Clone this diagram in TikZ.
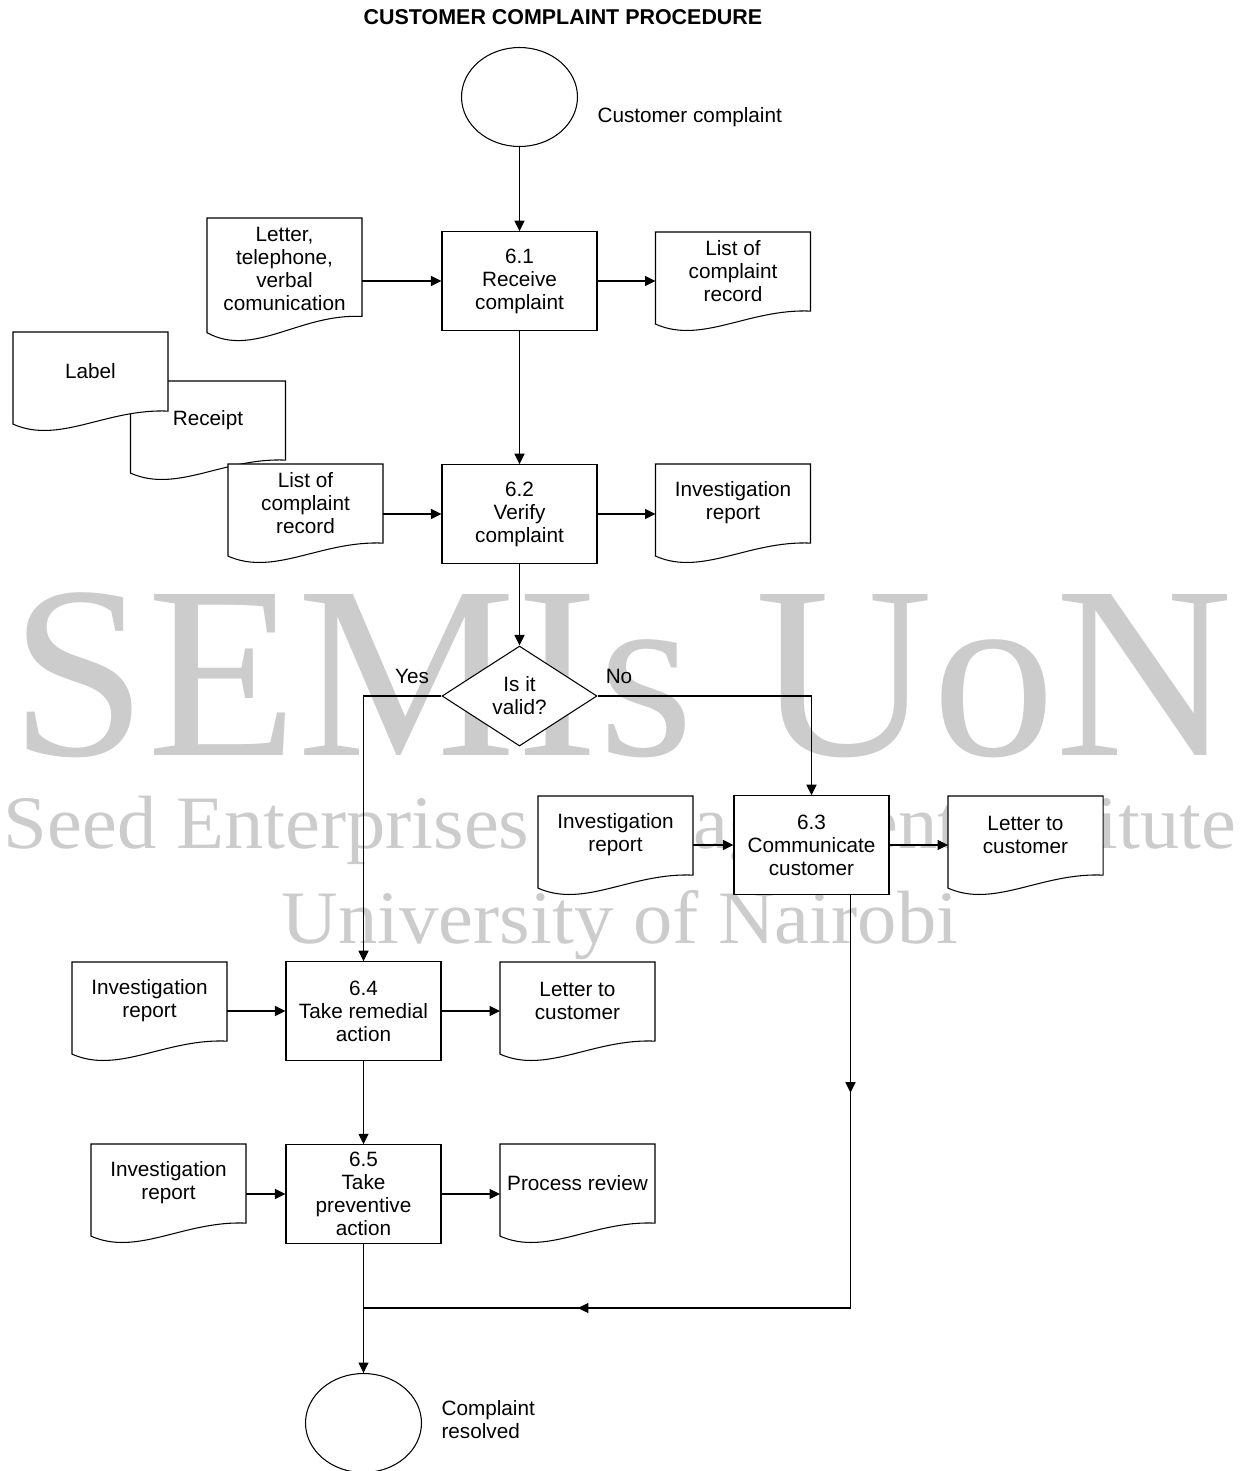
\documentclass[tikz,border=0pt]{standalone}
\usepackage{fontspec}
\setmainfont{Liberation Sans}
\newfontfamily\markfont{Liberation Serif}
\usetikzlibrary{arrows.meta,shapes.geometric,calc,decorations.markings}

\tikzset{
    >={Triangle[length=0.21cm, width=0.2cm]},
    txt/.style={font=\fontsize{11.8}{13.1}\selectfont},
    proc/.style={txt, draw, fill=white, minimum width=3.1cm, minimum height=1.97cm,
        align=center, inner sep=0pt},
    term/.style={draw, fill=white, ellipse, minimum width=2.32cm, minimum height=1.98cm,
        inner sep=0pt},
    choice/.style={txt, draw, fill=white, diamond, minimum width=3.1cm, minimum height=2cm,
        inner sep=0pt, align=center},
    docframe/.style={minimum width=3.1cm, inner sep=0pt, outer sep=0pt},
    doctext/.style={txt, align=center, yshift=0.2cm},
    note/.style={txt, align=left, anchor=west, inner sep=0pt},
    wmark/.style={text=black!20, inner sep=0pt, anchor=base},
    flow/.style={->},
    backflow/.style={postaction={decorate}, decoration={markings,
        mark=at position 3.96cm with {\arrow{>}},
        mark=at position 13.72cm with {\arrow{>}}}},
}

% sheet of paper with a wavy lower edge: [height] name, centre, text
\newcommand\paperdoc[4][98]{%
    \node[docframe, minimum height=#1*0.02cm] (#2) at (#3) {};
    \draw[fill=white, shift={(#2.north west)}]
        (0,0) -- (155,0) -- (155,{0.807*#1})
        .. controls (93,{0.78*#1}) and (46.5,{1.15*#1}) .. (0,{0.94*#1}) -- cycle;
    \node[doctext] (#2-t) at (#2) {#4};
}

\begin{document}
\begin{tikzpicture}[x=0.02cm, y=-0.02cm, line width=0.6pt]
    \useasboundingbox (0,0) rectangle (1248,1471);

    % watermark
    \node[wmark, font=\markfont\fontsize{140}{140}\selectfont] (wm1) at (622,755) {SEMIs UoN};
    \node[wmark, font=\markfont\fontsize{43}{43}\selectfont, xscale=1.04] (wm2) at (620,848)
        {Seed Enterprises Management Institute};
    \node[wmark, font=\markfont\fontsize{43}{43}\selectfont, xscale=1.04] (wm3) at (620,943)
        {University of Nairobi};

    \node[font=\bfseries\fontsize{12.2}{14}\selectfont] (title) at (563,17)
        {CUSTOMER COMPLAINT PROCEDURE};

    % start
    \node[term] (start) at (519.5,97) {};
    \node[note] (startlbl) at (597,117) {Customer complaint};

    % 6.1
    \node[proc] (c61) at (519.5,281) {6.1\\Receive\\complaint};
    \paperdoc[122]{in61}{284.5,279}{Letter,\\telephone,\\verbal\\comunication}
    \paperdoc{out61}{733,281}{List of\\complaint\\record}

    % 6.2
    \node[proc] (c62) at (519.5,514) {6.2\\Verify\\complaint};
    \paperdoc{rcpt}{208,430}{Receipt}
    \paperdoc{lbl}{90.5,381}{Label}
    \paperdoc{in62}{305.5,513}{List of\\complaint\\record}
    \paperdoc{out62}{733,513}{Investigation\\report}

    % decision
    \node[choice] (dia) at (519.5,696) {Is it\\valid?};
    \node[txt] (yes) at (412,676) {Yes};
    \node[txt] (no) at (619,676) {No};

    % 6.3
    \node[proc] (c63) at (811.5,845) {6.3\\Communicate\\customer};
    \paperdoc{in63}{615.5,845}{Investigation\\report}
    \paperdoc{out63}{1025.5,845}{Letter to\\customer}

    % 6.4
    \node[proc] (c64) at (363.5,1011) {6.4\\Take remedial\\action};
    \paperdoc{in64}{149.5,1011}{Investigation\\report}
    \paperdoc{out64}{577.5,1011}{Letter to\\customer}

    % 6.5
    \node[proc] (c65) at (363.5,1194) {6.5\\Take\\preventive\\action};
    \paperdoc{in65}{168.5,1193}{Investigation\\report}
    \paperdoc{out65}{577.5,1193}{Process review}

    % end
    \node[term] (stop) at (363.5,1423) {};
    \node[note] (stoplbl) at (441,1420) {Complaint\\resolved};

    % connectors
    \draw[flow] (start) -- (c61);
    \draw[flow] (in61.east |- c61.west) -- (c61.west);
    \draw[flow] (c61.east) -- (c61.east -| out61.west);
    \draw[flow] (c61) -- (c62);
    \draw[flow] (in62.east |- c62.west) -- (c62.west);
    \draw[flow] (c62.east) -- (c62.east -| out62.west);
    \draw[flow] (c62) -- (dia);
    \draw[flow] (dia.west) -| (c64.north);
    \draw[flow] (dia.east) -| (c63.north);
    \draw[flow] (in63.east |- c63.west) -- (c63.west);
    \draw[flow] (c63.east) -- (c63.east -| out63.west);
    \draw[flow] (in64.east |- c64.west) -- (c64.west);
    \draw[flow] (c64.east) -- (c64.east -| out64.west);
    \draw[flow] (c64) -- (c65);
    \draw[flow] (in65.east |- c65.west) -- (c65.west);
    \draw[flow] (c65.east) -- (c65.east -| out65.west);
    \draw[flow] (c65) -- (stop);

    \coordinate (turn) at (850.5,1308);
    \coordinate (join) at (363.5,1308);
    \draw[backflow] ($(c63.south)+(39,0)$) -- (turn) -- (join) -- (stop.north);
\end{tikzpicture}
\end{document}
